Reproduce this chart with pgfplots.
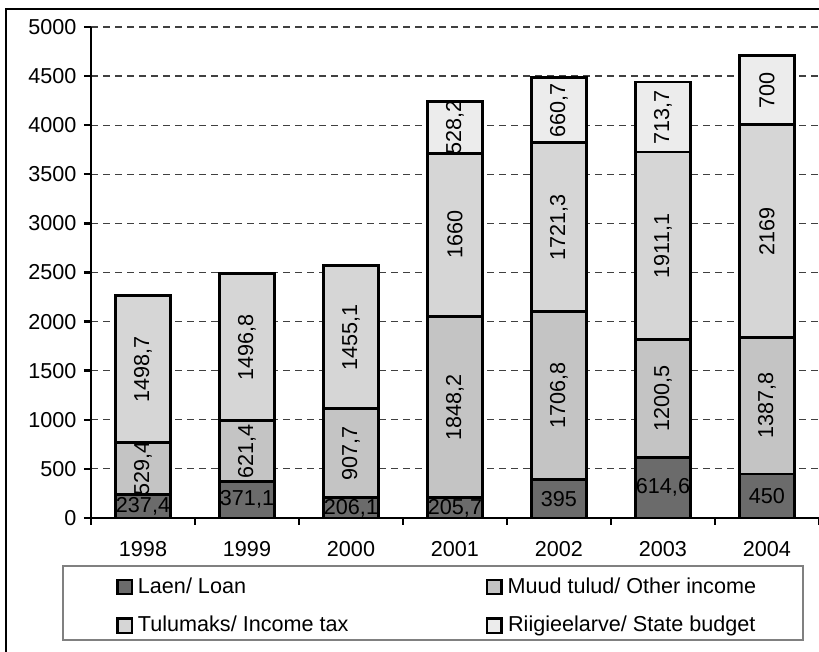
\documentclass[border=0pt]{standalone}
\usepackage{fontspec}
\setmainfont{Liberation Sans}
\usepackage{pgfplots}
\pgfplotsset{compat=1.18}
\usepackage{pgfplotstable}

\definecolor{loan}{HTML}{6B6B6B}
\definecolor{other}{HTML}{C4C4C4}
\definecolor{tax}{HTML}{D6D6D6}
\definecolor{budget}{HTML}{ECECEC}

% amounts per year
\pgfplotstableread{
x year loan other tax budget
0 1998 237.4 529.4 1498.7 0
1 1999 371.1 621.4 1496.8 0
2 2000 206.1 907.7 1455.1 0
3 2001 205.7 1848.2 1660 528.2
4 2002 395 1706.8 1721.3 660.7
5 2003 614.6 1200.5 1911.1 713.7
6 2004 450 1387.8 2169 700
}\budgettable
% middle of each segment, for the value labels
\pgfplotstablecreatecol[expr={\thisrow{loan}/2}]{cloan}\budgettable
\pgfplotstablecreatecol[expr={\thisrow{loan}+\thisrow{other}/2}]{cother}\budgettable
\pgfplotstablecreatecol[expr={\thisrow{loan}+\thisrow{other}+\thisrow{tax}/2}]{ctax}\budgettable
\pgfplotstablecreatecol[expr={\thisrow{loan}+\thisrow{other}+\thisrow{tax}+\thisrow{budget}/2}]{cbudget}\budgettable

\pgfplotsset{
  frame/.style={at={(0,0)}, anchor=south west,
    scale only axis, width=364pt, height=245.5pt,
    xmin=-0.5, xmax=6.5, ymin=0, ymax=5000},
  seglabel/.style={only marks, mark=none, point meta=explicit,
    nodes near coords, nodes near coords align=center,
    every node near coord/.append style={anchor=center, black, inner sep=0pt}},
}

\begin{document}
\fontsize{10.8}{13}\selectfont
\begin{tikzpicture}[x=1pt,y=1pt]
\useasboundingbox (-45.5,-67) rectangle (364,259);
\begin{axis}[
  frame,
  ybar stacked, bar width=27.5pt,
  axis x line*=bottom, axis y line*=left,
  axis line style={line width=1.3pt, -},
  xtick={0,...,6},
  xticklabels={1998,1999,2000,2001,2002,2003,2004},
  minor xtick={-0.5,0.5,...,6.5},
  ytick={0,500,...,5000},
  tick align=outside,
  major tick length=3.5pt, minor tick length=3.5pt,
  tick style={line width=1.2pt, black},
  major x tick style={draw=none},
  xticklabel style={yshift=-4.5pt},
  ymajorgrids,
  grid style={dash pattern=on 3.5pt off 2.5pt, line width=0.6pt, black!75},
  every axis plot/.append style={draw=black, line width=1.3pt},
  legend columns=2,
  legend style={draw=none, fill=none, at={(0.0343,-0.1202)}, anchor=north west,
    inner sep=0pt, row sep=10pt, column sep=2.5pt, nodes={inner sep=0pt}},
  legend image code/.code={\draw[#1, line width=1.1pt, draw=black] (0pt,-3.6pt) rectangle (7.2pt,3.6pt);},
  /pgf/number format/.cd, 1000 sep={}, assume math mode=true
]
\addplot[fill=loan] table[x=x, y=loan] {\budgettable};
\addlegendentry{\makebox[171.5pt][l]{Laen/ Loan}}
\addplot[fill=other] table[x=x, y=other] {\budgettable};
\addlegendentry{Muud tulud/ Other income}
\addplot[fill=tax] table[x=x, y=tax] {\budgettable};
\addlegendentry{\makebox[171.5pt][l]{Tulumaks/ Income tax}}
\addplot[fill=budget] table[x=x, y=budget] {\budgettable};
\addlegendentry{Riigieelarve/ State budget}
\end{axis}
\begin{axis}[
  frame, hide axis, unbounded coords=discard,
  /pgf/number format/.cd, fixed, precision=1, use comma, 1000 sep={}, assume math mode=true
]
\addplot[seglabel] table[x=x, y=cloan, meta=loan] {\budgettable};
\addplot[seglabel, every node near coord/.append style={rotate=90}] table[x=x, y=cother, meta=other] {\budgettable};
\addplot[seglabel, every node near coord/.append style={rotate=90}] table[x=x, y=ctax, meta=tax] {\budgettable};
\addplot[seglabel, every node near coord/.append style={rotate=90}]
  table[x=x, y expr={\thisrow{budget}>0 ? \thisrow{cbudget} : nan}, meta=budget] {\budgettable};
\end{axis}
\draw[gray, line width=0.6pt] (-14,-24) rectangle (356,-61);
\draw[line width=1.3pt] (-42.5,-90) rectangle (380,254.5);
\end{tikzpicture}
\end{document}
